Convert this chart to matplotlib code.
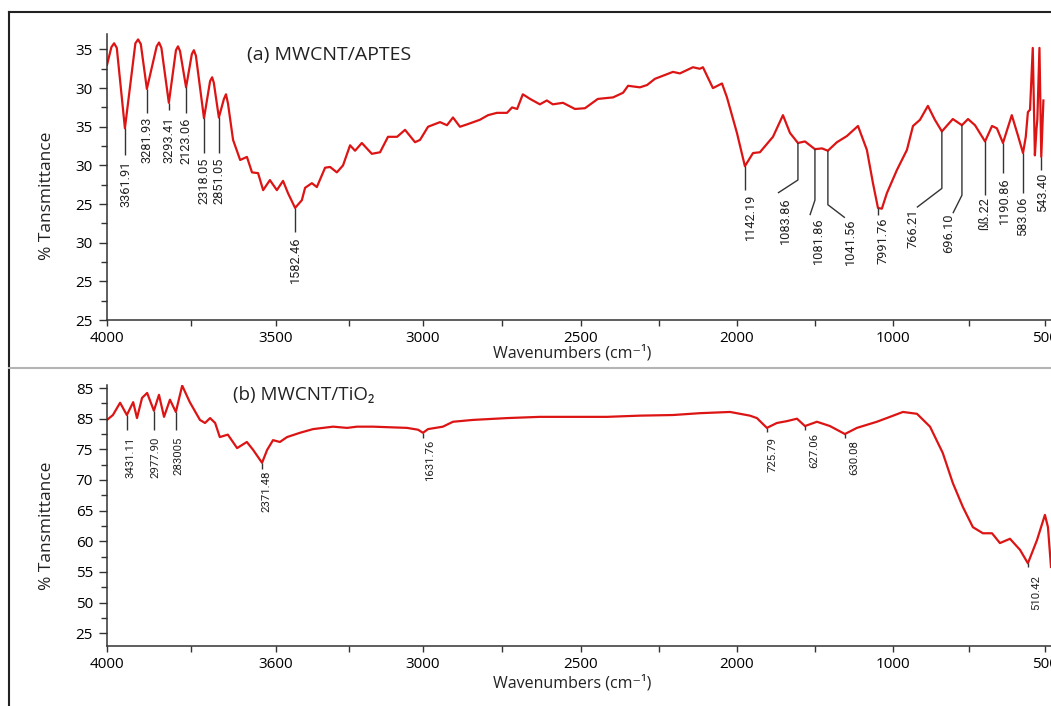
import matplotlib
matplotlib.use('Agg')

import numpy as np
import matplotlib.pyplot as plt
from matplotlib.lines import Line2D

plt.rcParams['font.family'] = ['Open Sans', 'DejaVu Sans']

# (a) MWCNT/APTES spectrum: wavenumber (cm-1) and transmittance
wave_a = [4000, 3987, 3979, 3971, 3947, 3916, 3908, 3900, 3882, 3853, 3846, 3839,
          3817, 3796, 3790, 3784, 3766, 3749, 3743, 3737, 3713, 3695, 3689, 3684,
          3669, 3654, 3648, 3642, 3627, 3606, 3586, 3571, 3553, 3538, 3518, 3497,
          3476, 3459, 3435, 3412, 3401, 3378, 3361, 3333, 3316, 3293, 3272, 3248,
          3231, 3208, 3174, 3146, 3119, 3088, 3061, 3027, 3010, 2984, 2946, 2924,
          2905, 2883, 2861, 2820, 2794, 2766, 2734, 2718, 2702, 2684, 2661, 2630,
          2608, 2589, 2557, 2519, 2487, 2446, 2397, 2365, 2349, 2311, 2288, 2263,
          2224, 2205, 2183, 2141, 2119, 2109, 2077, 2048, 2032, 2000, 1949, 1897,
          1853, 1769, 1705, 1660, 1609, 1564, 1500, 1455, 1417, 1359, 1295, 1224,
          1167, 1128, 1096, 1071, 1039, 987, 954, 934, 911, 885, 862, 839,
          803, 773, 753, 730, 697, 674, 658, 638, 609, 589, 572, 563,
          556, 549, 540, 533, 528, 525, 518, 512, 505]
trans_a = [58.0, 60.3, 60.8, 60.2, 49.8, 60.8, 61.3, 60.7, 54.9, 60.4, 60.9, 60.2,
           53.1, 59.9, 60.4, 59.8, 55.1, 59.4, 59.9, 59.2, 51.1, 55.9, 56.4, 55.7,
           51.2, 53.6, 54.2, 53.0, 48.3, 45.7, 46.1, 44.1, 44.0, 41.8, 43.1, 41.8,
           43.0, 41.4, 39.5, 40.5, 42.1, 42.7, 42.2, 44.7, 44.8, 44.1, 45.0, 47.6,
           46.9, 47.9, 46.5, 46.7, 48.7, 48.7, 49.6, 48.0, 48.3, 50.0, 50.6, 50.2,
           51.2, 50.0, 50.3, 50.9, 51.5, 51.8, 51.8, 52.5, 52.3, 54.2, 53.6, 52.9,
           53.4, 52.9, 53.1, 52.3, 52.4, 53.6, 53.8, 54.4, 55.3, 55.1, 55.4, 56.2,
           56.8, 57.1, 56.9, 57.7, 57.5, 57.7, 55.0, 55.6, 53.8, 49.2, 44.9, 46.6,
           46.7, 48.7, 51.5, 49.2, 47.9, 48.1, 47.1, 47.2, 46.9, 48.0, 48.8, 50.1,
           47.0, 42.7, 39.5, 39.4, 41.4, 44.4, 47.0, 50.1, 50.9, 52.7, 50.9, 49.4,
           51.0, 50.2, 51.0, 50.2, 48.1, 50.1, 49.8, 47.9, 51.5, 48.9, 46.6, 48.7,
           51.9, 52.2, 60.2, 46.3, 49.6, 50.9, 60.2, 46.1, 53.4]

# (b) MWCNT/TiO2 spectrum
wave_b = [4000, 3986, 3969, 3953, 3938, 3929, 3917, 3905, 3889, 3877, 3865, 3851,
          3837, 3822, 3804, 3780, 3768, 3756, 3744, 3733, 3714, 3692, 3669, 3654,
          3633, 3621, 3607, 3584, 3555, 3502, 3449, 3367, 3310, 3269, 3204, 3065,
          3020, 3000, 2984, 2937, 2905, 2842, 2734, 2630, 2525, 2417, 2311, 2205,
          2119, 2022, 1917, 1872, 1808, 1744, 1680, 1615, 1564, 1487, 1404, 1308,
          1231, 1103, 1019, 967, 921, 878, 836, 803, 770, 737, 704, 674,
          648, 615, 582, 556, 526, 500, 490, 480]
trans_b = [79.8, 80.6, 82.6, 80.6, 82.7, 80.1, 83.4, 84.2, 81.3, 83.9, 80.3, 83.1,
           81.1, 85.4, 82.7, 79.8, 79.3, 80.1, 79.3, 77.0, 77.4, 75.2, 76.2, 74.9,
           72.8, 74.9, 76.5, 76.2, 77.0, 77.7, 78.3, 78.7, 78.5, 78.7, 78.7, 78.5,
           78.2, 77.7, 78.3, 78.7, 79.5, 79.8, 80.1, 80.3, 80.3, 80.3, 80.5, 80.6,
           80.9, 81.1, 80.5, 80.1, 78.5, 79.3, 79.6, 80.0, 78.8, 79.5, 78.8, 77.5,
           78.5, 79.5, 80.3, 81.1, 80.8, 78.7, 74.4, 69.5, 65.6, 62.3, 61.3, 61.3,
           59.7, 60.4, 58.6, 56.4, 60.2, 64.3, 62.3, 55.8]

# axis ticks and the labels printed at them
xticks_a = [4000, 3500, 3000, 2500, 2000, 1000, 500]
xticks_b = [4000, 3600, 3000, 2500, 2000, 1000, 500]
yticks_a = [25, 30, 35, 40, 45, 50, 55, 60]
ylabels_a = ['25', '25', '30', '25', '30', '35', '30', '35']
yticks_b = [45, 50, 55, 60, 65, 70, 75, 80, 85]
ylabels_b = ['25', '50', '55', '60', '65', '70', '75', '85', '85']

# peak annotations: wavenumber of the band and the printed text
peaks_a = [3947, 3882, 3817, 3766, 3713, 3669, 3435, 1949, 1609, 1500, 1417,
           1096, 839, 773, 697, 638, 572, 512]
peak_text_a = ['3361.91', '3281.93', '3293.41', '2123.06', '2318.05', '2851.05',
               '1582.46', '1142.19', '1083.86', '1081.86', '1041.56', '7991.76',
               '766.21', '696.10', 'ßß.22', '1190.86', '583.06', '543.40']
peaks_b = [3953, 3889, 3837, 3633, 3000, 1808, 1564, 1308, 556]
peak_text_b = ['3431.11', '2977.90', '283005', '2371.48', '1631.76', '725.79',
               '627.06', '630.08', '510.42']

# leader shape in pixels: vertical drop, optional bend point, text offset (dx, top)
leaders_a = [(27, None, (1, 32)), (24, None, (0, 28)), (7, None, (0, 14)),
             (26, None, (0, 30)), (35, None, (0, 39)), (36, None, (0, 40)),
             (24, None, (0, 29)), (24, None, (6, 27)), (37, (-20, 50), (-12, 54)),
             (51, (-5, 66), (3, 68)), (54, (17, 67), (23, 68)), (7, None, (5, 10)),
             (57, (-25, 76), (-29, 77)), (70, (-9, 88), (-13, 88)), (54, None, (0, 56)),
             (30, None, (1, 34)), (40, None, (0, 44)), (13, None, (1, 16))]
leaders_b = [(15, None, (4, 22)), (19, None, (2, 26)), (18, None, (3, 25)),
             (6, None, (4, 8)), (5, None, (7, 7)), (4, None, (6, 9)),
             (4, None, (9, 7)), (4, None, (9, 6)), (4, None, (8, 12))]

# distance (px) of each labelled tick from the left spine
tick_offsets = [0, 169, 316, 474, 630, 786, 938]

RED = '#dd1414'
INK = '#333333'
PEAK_FONT = ['Roboto', 'DejaVu Sans']
W, H = 1051, 706


def wavenumber_scale(ticks):
    # piecewise-linear axis: each labelled interval gets its own width
    w = np.array(list(ticks) + [ticks[-1] - 100], float)
    d = np.array(tick_offsets + [tick_offsets[-1] + 100 * 152 / 500], float)
    forward = lambda x: -np.interp(x, w[::-1], d[::-1])
    inverse = lambda u: np.interp(-u, d, w)
    return forward, inverse


def setup_axes(ax, xticks, yticks, ylabels, ylim):
    fwd, inv = wavenumber_scale(xticks)
    ax.set_xscale('function', functions=(fwd, inv))
    ax.set_xlim(4000, 480)
    ax.set_ylim(*ylim)
    ax.set_xticks(xticks)
    ax.set_xticklabels([str(t) for t in xticks])
    mids = [-(a + b) / 2 for a, b in zip(tick_offsets[:-1], tick_offsets[1:])]
    ax.set_xticks(inv(np.array(mids)), minor=True)
    ax.set_yticks(yticks)
    ax.set_yticklabels(ylabels)
    ax.set_yticks(np.arange(yticks[0] + 2.5, yticks[-1], 5), minor=True)
    for side in ('top', 'right'):
        ax.spines[side].set_visible(False)
    for side in ('left', 'bottom'):
        ax.spines[side].set_color(INK)
        ax.spines[side].set_linewidth(1.1)
    ax.tick_params(axis='x', which='major', length=4, width=1, color=INK,
                   labelsize=11, pad=4)
    ax.tick_params(axis='x', which='minor', length=4, width=1, color=INK)
    ax.tick_params(axis='y', which='major', length=6, width=1, color=INK,
                   labelsize=11, pad=4)
    ax.tick_params(axis='y', which='minor', length=4, width=1, color=INK)
    ax.set_facecolor('none')


def annotate_peaks(ax, waves, values, peaks, texts, leaders, size):
    order = np.argsort(waves)
    wv = np.array(waves, float)[order]
    tv = np.array(values, float)[order]
    to_disp = ax.transData
    for p, txt, (drop, bend, (tx, ty)) in zip(peaks, texts, leaders):
        v = np.interp(p, wv, tv)
        x0, y0 = to_disp.transform((p, v))
        path = [(x0, y0), (x0, y0 - drop)]
        if bend is not None:
            path.append((x0 + bend[0], y0 - bend[1]))
        xs, ys = to_disp.inverted().transform(path).T
        ax.plot(xs, ys, color=INK, lw=1.0, solid_capstyle='butt')
        ax.annotate(txt, xy=(p, v), xytext=(tx, -ty), textcoords='offset pixels',
                    rotation=90, ha='center', va='top', fontsize=size,
                    family=PEAK_FONT, color='#222222')


fig = plt.figure(figsize=(W / 100, H / 100), dpi=100)

ax_a = fig.add_axes([107 / W, 1 - 320 / H, 944 / W, 286 / H])
ax_b = fig.add_axes([107 / W, 1 - 646 / H, 944 / W, 261 / H])

setup_axes(ax_a, xticks_a, yticks_a, ylabels_a, (25, 62.0))
setup_axes(ax_b, xticks_b, yticks_b, ylabels_b, (42.9, 85.5))

ax_a.plot(wave_a, trans_a, color=RED, lw=1.6, solid_joinstyle='round')
ax_b.plot(wave_b, trans_b, color=RED, lw=1.6, solid_joinstyle='round')

annotate_peaks(ax_a, wave_a, trans_a, peaks_a, peak_text_a, leaders_a, 9.2)
annotate_peaks(ax_b, wave_b, trans_b, peaks_b, peak_text_b, leaders_b, 8.2)

# panel titles and axis labels
fig.text(247 / W, 1 - 55 / H, '(a) MWCNT/APTES', fontsize=14, ha='left', va='center', color='#222222')
fig.text(233 / W, 1 - 395 / H, '(b) MWCNT/TiO₂', fontsize=13.5, ha='left', va='center', color='#222222')
for yc in (196, 526):
    fig.text(47 / W, 1 - yc / H, '% Tansmittance', fontsize=12.5, rotation=90,
             ha='center', va='center', color='#222222')
for yc in (353, 683):
    fig.text(572 / W, 1 - yc / H, 'Wavenumbers (cm⁻¹)', fontsize=11.5,
             ha='center', va='center', color='#222222')

# outer frame and divider between the panels
fig.add_artist(Line2D([8.5 / W, 1], [1 - 12 / H, 1 - 12 / H], color='#222222', lw=1.5))
fig.add_artist(Line2D([8.5 / W, 8.5 / W], [0, 1 - 12 / H], color='#222222', lw=1.5))
fig.add_artist(Line2D([8.5 / W, 1], [1 - 368 / H, 1 - 368 / H], color='#b4b4b4', lw=1.5))

fig.savefig('out.png', dpi=100)
plt.close(fig)
